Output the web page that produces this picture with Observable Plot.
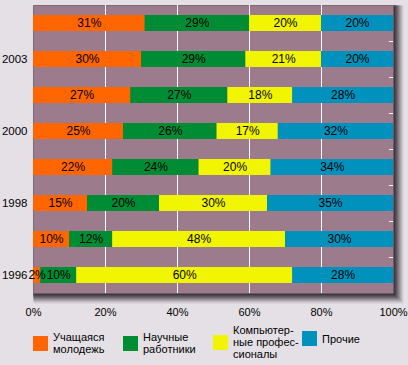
<!DOCTYPE html>
<html><head><meta charset="utf-8">
<script src="https://cdn.jsdelivr.net/npm/d3@7"></script>
<script src="https://cdn.jsdelivr.net/npm/@observablehq/plot@0.6"></script>
<style>
html,body{margin:0;padding:0;background:#e5e0e6;}
#wrap{position:relative;width:408px;height:365px;font-family:"Liberation Sans",Arial,sans-serif;}
#wrap svg{display:block;}
.leg{position:absolute;top:331px;display:flex;align-items:center;font-size:11px;line-height:12px;color:#000;}
.sw{width:15px;height:15px;margin-right:5px;flex:none;}
</style></head>
<body><div id="wrap"></div>
<script>
const rows = ["r1","r2","r3","r4","r5","r6","r7","r8"];
const yearLabels = ["", "2003", "", "2000", "", "1998", "", "1996"];
const categories = ["Учащаяся молодежь","Научные работники","Компьютерные профессионалы","Прочие"];
const legendLabels = [["Учащаяся","молодежь"],["Научные","работники"],["Компьютер-","ные профес-","сионалы"],["Прочие"]];
const colors = ["#ff6600","#008c34","#f2f500","#0092bc"];
const students   = [31, 30, 27, 25, 22, 15, 10, 2];
const scientists = [29, 29, 27, 26, 24, 20, 12, 10];
const computer   = [20, 21, 18, 17, 20, 30, 48, 60];
const others     = [20, 20, 28, 32, 34, 35, 30, 28];
const xTicks = [0, 20, 40, 60, 80, 100];
const grid = [20, 40, 60, 80];

const series = [students, scientists, computer, others];
const data = [];
rows.forEach((r, i) => series.forEach((s, k) => data.push({row: r, cat: categories[k], value: s[i]})));

const shadow = [[-10, "#d2cad2"], [-8, "#aca4ac"], [-6, "#847c84"], [-4, "#5e565e"], [-2, "#403840"]];

const chart = Plot.plot({
  width: 408, height: 322,
  marginTop: 5, marginBottom: 29, marginLeft: 33, marginRight: 15,
  style: {background: "transparent", fontFamily: "Liberation Sans, Arial, sans-serif", fontSize: "11px", color: "#000"},
  x: {domain: [0, 100], label: null},
  y: {domain: rows, paddingInner: 0.56, paddingOuter: 0.28, label: null},
  color: {domain: categories, range: colors},
  marks: [
    ...shadow.map(([s, c]) => Plot.frame({fill: c, insetRight: s, insetBottom: s})),
    Plot.frame({fill: "#9b7b8c"}),
    Plot.ruleX(grid, {stroke: "#ffffff", strokeWidth: 1}),
    Plot.ruleY(rows.slice(0, -1), {y: d => d, dy: 18, x1: 98.9, x2: 100, stroke: "#ffffff"}),
    Plot.barX(data, Plot.stackX({x: "value", y: "row", z: "cat", fill: "cat", order: categories})),
    Plot.text(data, Plot.stackX({x: "value", y: "row", z: "cat", order: categories, text: d => d.value + "%", fill: "#000", fontSize: 12})),
    Plot.axisY({fontSize: 11.5, tickSize: 0, tickPadding: 6, tickFormat: d => yearLabels[rows.indexOf(d)]}),
    Plot.axisX({ticks: xTicks, tickFormat: d => d + "%", tickSize: 0, tickPadding: 15, fontSize: 11})
  ]
});
const wrap = document.getElementById("wrap");
wrap.appendChild(chart);
const lefts = [33, 123, 213, 302];
legendLabels.forEach((lines, k) => {
  const d = document.createElement("div");
  d.className = "leg";
  d.style.left = lefts[k] + "px";
  if (lines.length === 3) d.style.top = "324px";
  const sw = document.createElement("div");
  sw.className = "sw"; sw.style.background = colors[k];
  const t = document.createElement("div");
  t.innerHTML = lines.join("<br>");
  d.appendChild(sw); d.appendChild(t);
  wrap.appendChild(d);
});
</script></body></html>
